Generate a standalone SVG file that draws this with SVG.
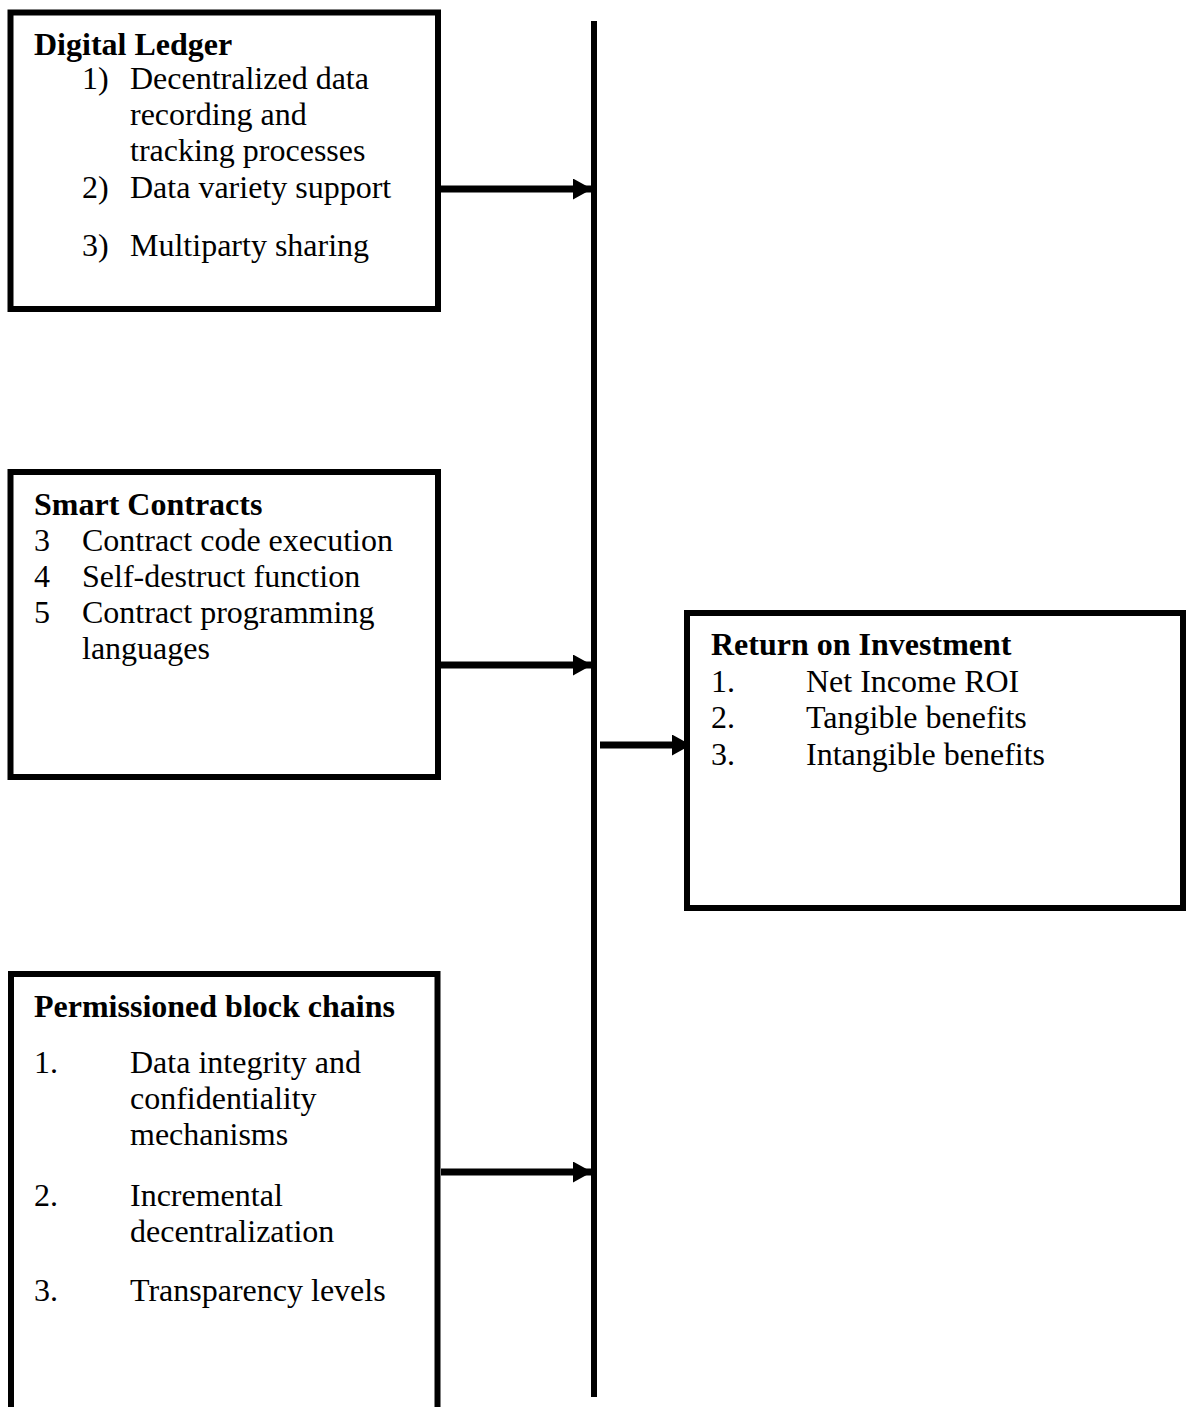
<svg xmlns="http://www.w3.org/2000/svg" width="1189" height="1407" viewBox="0 0 1189 1407">
<style>
.box{fill:#fff;stroke:#000;stroke-width:6}
.t{font-family:"Liberation Serif","Times New Roman",serif;font-size:32px;fill:#000}
.b{font-weight:bold}
.c{stroke:#000;stroke-width:6;fill:none}
.a{stroke:#000;stroke-width:7;fill:none}
</style>
<defs>
<marker id="ah" markerUnits="userSpaceOnUse" markerWidth="19" markerHeight="21" refX="19" refY="10.5" orient="auto">
<path d="M0,0 L19,10.5 L0,21 z" fill="#000"/>
</marker>
</defs>
<rect width="1189" height="1407" fill="#fff"/>
<g id="connectors">
<line class="c" x1="594" y1="21" x2="594" y2="1397"/>
<line class="a" x1="441" y1="189" x2="592" y2="189" marker-end="url(#ah)"/>
<line class="a" x1="441" y1="665" x2="592" y2="665" marker-end="url(#ah)"/>
<line class="a" x1="441" y1="1172" x2="592" y2="1172" marker-end="url(#ah)"/>
<line class="a" x1="600" y1="745" x2="691" y2="745" marker-end="url(#ah)"/>
</g>
<g id="digital-ledger">
<rect class="box" x="10.5" y="12.5" width="427.5" height="296.5"/>
<text class="t b" x="34" y="55">Digital Ledger</text>
<text class="t" x="82" y="89">1)</text>
<text class="t" x="130" y="89">Decentralized data</text>
<text class="t" x="130" y="125">recording and</text>
<text class="t" x="130" y="161">tracking processes</text>
<text class="t" x="82" y="198">2)</text>
<text class="t" x="130" y="198">Data variety support</text>
<text class="t" x="82" y="256">3)</text>
<text class="t" x="130" y="256">Multiparty sharing</text>
</g>
<g id="smart-contracts">
<rect class="box" x="10.5" y="472" width="427.5" height="305"/>
<text class="t b" x="34" y="515">Smart Contracts</text>
<text class="t" x="34" y="551">3</text>
<text class="t" x="82" y="551">Contract code execution</text>
<text class="t" x="34" y="587">4</text>
<text class="t" x="82" y="587">Self-destruct function</text>
<text class="t" x="34" y="623">5</text>
<text class="t" x="82" y="623">Contract programming</text>
<text class="t" x="82" y="659">languages</text>
</g>
<g id="return-on-investment">
<rect class="box" x="687" y="613" width="496" height="295"/>
<text class="t b" x="711" y="655">Return on Investment</text>
<text class="t" x="711" y="692">1.</text>
<text class="t" x="806" y="692">Net Income ROI</text>
<text class="t" x="711" y="728">2.</text>
<text class="t" x="806" y="728">Tangible benefits</text>
<text class="t" x="711" y="765">3.</text>
<text class="t" x="806" y="765">Intangible benefits</text>
</g>
<g id="permissioned-block-chains">
<rect class="box" x="11" y="974" width="426.5" height="440"/>
<text class="t b" x="34" y="1017">Permissioned block chains</text>
<text class="t" x="34" y="1073">1.</text>
<text class="t" x="130" y="1073">Data integrity and</text>
<text class="t" x="130" y="1109">confidentiality</text>
<text class="t" x="130" y="1145">mechanisms</text>
<text class="t" x="34" y="1206">2.</text>
<text class="t" x="130" y="1206">Incremental</text>
<text class="t" x="130" y="1242">decentralization</text>
<text class="t" x="34" y="1301">3.</text>
<text class="t" x="130" y="1301">Transparency levels</text>
</g>
</svg>
